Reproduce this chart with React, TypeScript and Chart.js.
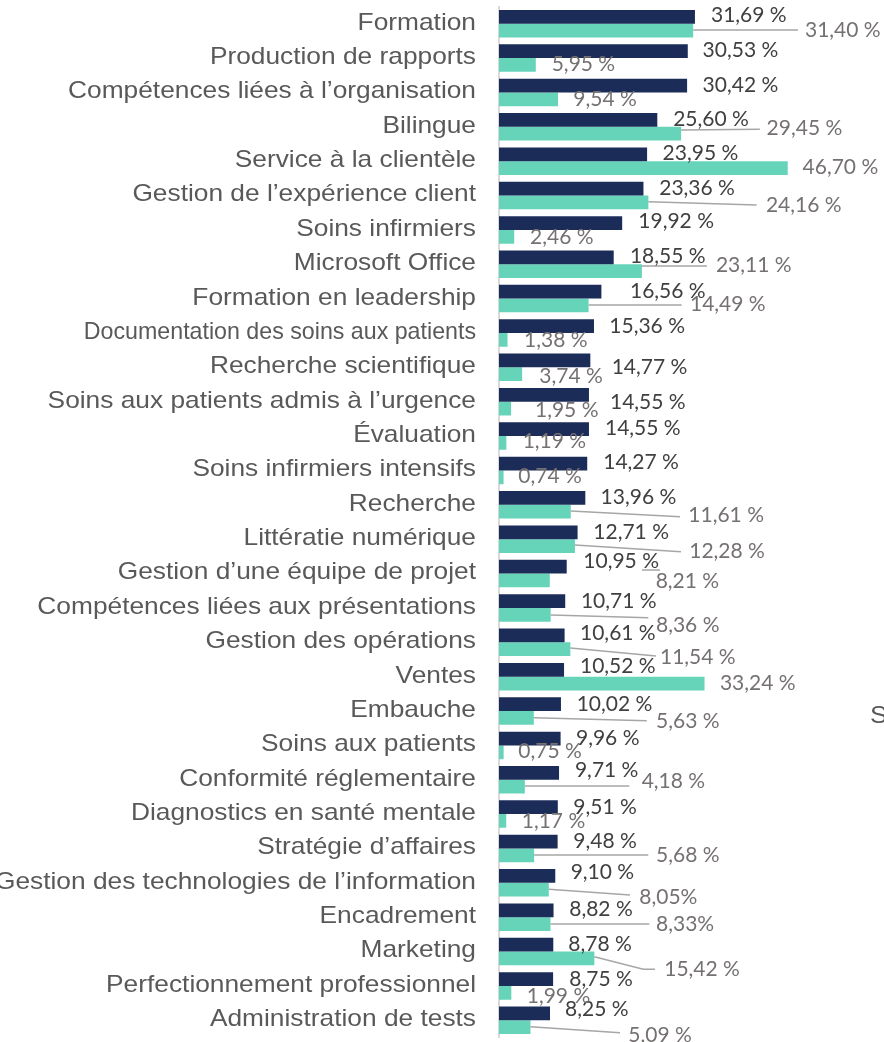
import { useEffect, useRef } from "react";
import { Chart, registerables } from "chart.js";

Chart.register(...registerables);

// Skill names, top to bottom
const categories = [
  "Formation",
  "Production de rapports",
  "Compétences liées à l’organisation",
  "Bilingue",
  "Service à la clientèle",
  "Gestion de l’expérience client",
  "Soins infirmiers",
  "Microsoft Office",
  "Formation en leadership",
  "Documentation des soins aux patients",
  "Recherche scientifique",
  "Soins aux patients admis à l’urgence",
  "Évaluation",
  "Soins infirmiers intensifs",
  "Recherche",
  "Littératie numérique",
  "Gestion d’une équipe de projet",
  "Compétences liées aux présentations",
  "Gestion des opérations",
  "Ventes",
  "Embauche",
  "Soins aux patients",
  "Conformité réglementaire",
  "Diagnostics en santé mentale",
  "Stratégie d’affaires",
  "Gestion des technologies de l’information",
  "Encadrement",
  "Marketing",
  "Perfectionnement professionnel",
  "Administration de tests",
];

// Percentages, dark series
const navySeries = [
  31.69, 30.53, 30.42, 25.6, 23.95, 23.36, 19.92, 18.55, 16.56, 15.36,
  14.77, 14.55, 14.55, 14.27, 13.96, 12.71, 10.95, 10.71, 10.61, 10.52,
  10.02, 9.96, 9.71, 9.51, 9.48, 9.1, 8.82, 8.78, 8.75, 8.25,
];

// Percentages, light series
const tealSeries = [
  31.4, 5.95, 9.54, 29.45, 46.7, 24.16, 2.46, 23.11, 14.49, 1.38,
  3.74, 1.95, 1.19, 0.74, 11.61, 12.28, 8.21, 8.36, 11.54, 33.24,
  5.63, 0.75, 4.18, 1.17, 5.68, 8.05, 8.33, 15.42, 1.99, 5.09,
];

// Light-series labels written without the space before "%"
const tealCompactPercent = new Set([25, 26]);

// Category labels set in a tighter width
const condensedCategories = new Set([9]);

// Cut-off text at the right edge
const sideNote = "S";

const xMax = 60;

// Label placement: [dx from bar end to label left, dy from bar centre to label centre]
const navyLabelOffset: [number, number][] = [
  [16, -2], [14.8, -1.9], [15.5, -1.2], [15.9, -1.6], [15.5, -1.6],
  [15.8, -1.3], [16.1, -2.3], [16.2, -2.4], [28.6, -1], [15.3, -1.1],
  [21.3, 6.2], [21, 6.2], [16, -1.9], [16, -1.9], [15.3, -2],
  [15.7, -0.6], [16.6, -6], [15.7, -1], [15.4, -2.7], [15.9, -4.8],
  [15.7, -0.9], [15.4, -1.2], [15.9, -3.6], [15.5, -1.3], [15.7, -1.7],
  [15.4, -4.3], [15.7, -2.1], [15, -1.5], [16.2, -0.8], [15, -5.2],
];

const tealLabelOffset: [number, number][] = [
  [111.8, -1], [15.9, -1.6], [15.3, -1], [85.5, -6], [14.8, -1.3],
  [117.5, 1.6], [15.8, -0.7], [74, -7], [101.4, -2.2], [16.5, -0.9],
  [17.2, 0.8], [23.9, 0.4], [16.3, -3], [14.7, -2.3], [117.5, 2.8],
  [114.3, 3.9], [105.9, -0.4], [105.3, 9.2], [89.6, 6.8], [15.4, -1.2],
  [122.2, 2.1], [14.7, -1.6], [116.8, -6.7], [15.5, -1], [121.9, -1.4],
  [90.5, 6.2], [105.5, -0.8], [69.9, 9.8], [15.4, 2.1], [97.8, 6.8],
];

// Leader lines for the light-series labels: start is relative to the bar end,
// following points are relative to the label anchor (left edge, centre)
type Leader = { sx?: number; sy: number; pts: [number, number][] };
const tealLeaders: Record<number, Leader> = {
  0: { sy: -0.5, pts: [[-7, 0.5]] },
  3: { sy: -3.6, pts: [[-6.7, 1.5]] },
  5: { sy: -0.7, pts: [[-9.3, 1]] },
  7: { sy: -5, pts: [[-9, 2]] },
  8: { sy: -0.5, pts: [[-8.3, 1.7]] },
  14: { sy: -0.7, pts: [[-8.3, 2.2]] },
  15: { sy: -1, pts: [[-8.3, 1.7]] },
  16: { sx: 92.2, sy: -10.4, pts: [[4.3, -10]] },
  17: { sy: 0.2, pts: [[-7.7, -6.3]] },
  18: { sy: -1.2, pts: [[-4, 0]] },
  20: { sy: -0.2, pts: [[-9.3, 0.7]] },
  22: { sy: -0.7, pts: [[-12.4, 6]] },
  24: { sy: -0.4, pts: [[-7.7, 1]] },
  25: { sy: -0.5, pts: [[-9.3, -1]] },
  26: { sy: -0.1, pts: [[-6.7, 0.7]] },
  27: { sy: -1.8, pts: [[-21, 1], [-9.3, 1]] },
  29: { sy: -0.5, pts: [[-8.3, -1.3]] },
};

const NAVY = "#1c2c58";
const TEAL = "#66d4b8";
const CATEGORY_FONT = '24px "Liberation Sans", Arial, sans-serif';
const VALUE_FONT = '21px Lato, "Open Sans", sans-serif';
const STRETCH = 1.096;
const CONDENSED = 0.967;

const fmt = (v: number, compact = false) =>
  v.toFixed(2).replace(".", ",") + (compact ? "%" : " %");

const overlayPlugin = {
  id: "overlay",
  afterDatasetsDraw(chart: any) {
    const ctx: CanvasRenderingContext2D = chart.ctx;
    const yScale = chart.scales.y;
    const area = chart.chartArea;
    ctx.save();

    // Category labels
    ctx.fillStyle = "#595959";
    ctx.font = CATEGORY_FONT;
    ctx.textAlign = "right";
    ctx.textBaseline = "alphabetic";
    const labelRight = area.left - 23;
    categories.forEach((c, i) => {
      const y = yScale.getPixelForValue(i) + 5.9;
      ctx.save();
      ctx.translate(labelRight, y);
      ctx.scale(condensedCategories.has(i) ? CONDENSED : STRETCH, 1);
      ctx.fillText(c, 0, 0);
      ctx.restore();
    });

    // Side text
    ctx.textAlign = "left";
    ctx.save();
    ctx.translate(870, yScale.getPixelForValue(20) + 12);
    ctx.scale(STRETCH, 1);
    ctx.fillText(sideNote, 0, 0);
    ctx.restore();

    const navyBars = chart.getDatasetMeta(0).data;
    const tealBars = chart.getDatasetMeta(1).data;

    // Leader lines
    ctx.strokeStyle = "#a6a6a6";
    ctx.lineWidth = 1.5;
    Object.keys(tealLeaders).forEach((key) => {
      const i = Number(key);
      const bar = tealBars[i];
      const ld = tealLeaders[i];
      const [dx, dy] = tealLabelOffset[i];
      const lx = bar.x + dx;
      const ly = bar.y + dy;
      ctx.beginPath();
      ctx.moveTo(bar.x + (ld.sx ?? 0), bar.y + ld.sy);
      ld.pts.forEach(([px, py]) => ctx.lineTo(lx + px, ly + py));
      ctx.stroke();
    });

    // Value labels
    ctx.font = VALUE_FONT;
    ctx.textAlign = "left";
    ctx.textBaseline = "alphabetic";
    ctx.fillStyle = "#404040";
    navySeries.forEach((v, i) => {
      const bar = navyBars[i];
      const [dx, dy] = navyLabelOffset[i];
      ctx.fillText(fmt(v), bar.x + dx, bar.y + dy + 7.6);
    });
    ctx.fillStyle = "#767171";
    tealSeries.forEach((v, i) => {
      const bar = tealBars[i];
      const [dx, dy] = tealLabelOffset[i];
      ctx.fillText(fmt(v, tealCompactPercent.has(i)), bar.x + dx, bar.y + dy + 7.6);
    });

    ctx.restore();
  },
};

export default function App() {
  const canvasRef = useRef<HTMLCanvasElement | null>(null);

  useEffect(() => {
    if (!canvasRef.current) return;
    const chart = new Chart(canvasRef.current, {
      type: "bar",
      data: {
        labels: categories,
        datasets: [
          {
            data: navySeries,
            backgroundColor: NAVY,
            borderWidth: 0,
            categoryPercentage: 0.8,
            barPercentage: 1,
          },
          {
            data: tealSeries,
            backgroundColor: TEAL,
            borderWidth: 0,
            categoryPercentage: 0.8,
            barPercentage: 1,
          },
        ],
      },
      options: {
        indexAxis: "y",
        responsive: false,
        animation: false,
        devicePixelRatio: 1,
        events: [],
        layout: { padding: { top: 6.5, bottom: 4.5, left: 0, right: 14 } },
        plugins: {
          legend: { display: false },
          tooltip: { enabled: false },
        },
        scales: {
          x: { display: false, min: 0, max: xMax },
          y: {
            type: "category",
            ticks: { display: false },
            grid: { display: false },
            border: { display: true, color: "#d9d9d9", width: 2 },
            afterFit(scale: any) {
              scale.width = 499;
            },
          },
        },
      },
      plugins: [overlayPlugin],
    } as any);
    return () => chart.destroy();
  }, []);

  return (
    <div
      style={{
        position: "fixed",
        left: 0,
        top: 0,
        width: 884,
        height: 1042,
        background: "#ffffff",
      }}
    >
      <canvas ref={canvasRef} width={884} height={1042} />
    </div>
  );
}
